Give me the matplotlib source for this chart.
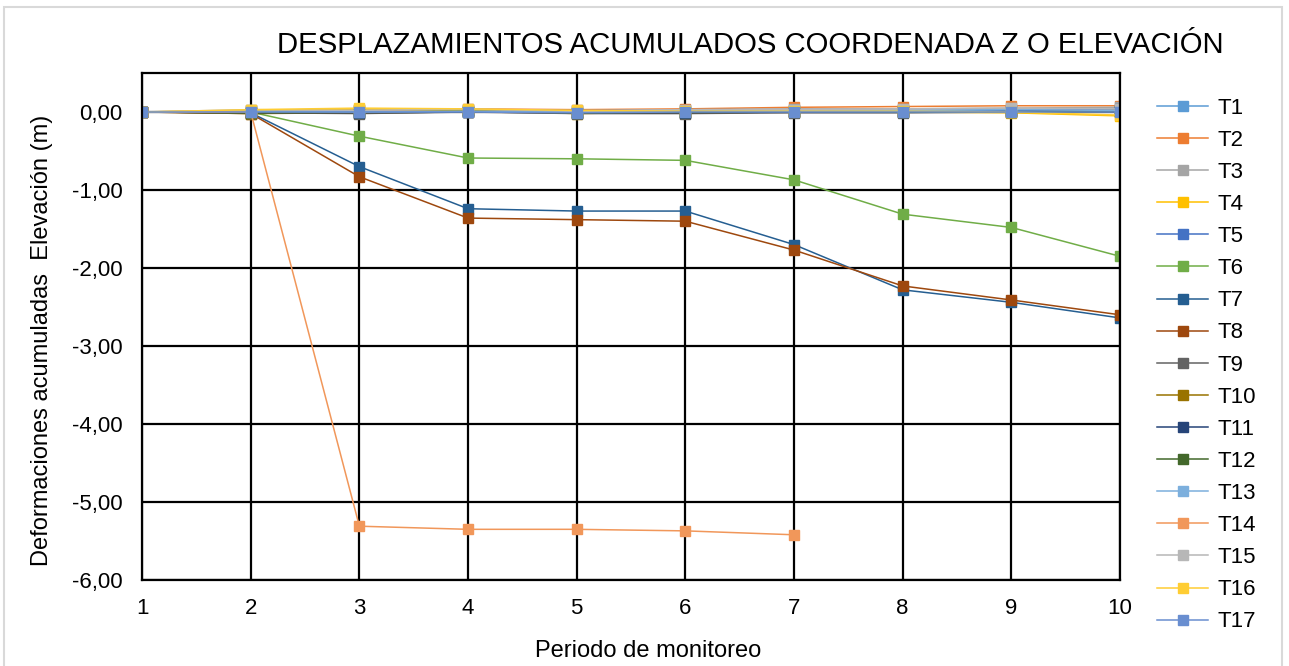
import matplotlib
matplotlib.use("Agg")
import matplotlib.pyplot as plt
from matplotlib.patches import Rectangle

plt.rcParams['font.family'] = ['Liberation Sans', 'DejaVu Sans']

periods = [1, 2, 3, 4, 5, 6, 7, 8, 9, 10]

T1 = [0.00, 0.01, 0.01, 0.02, 0.01, 0.02, 0.02, 0.02, 0.03, 0.03]
T2 = [0.00, 0.00, 0.02, 0.04, 0.03, 0.04, 0.06, 0.07, 0.08, 0.08]
T3 = [0.00, 0.02, 0.03, 0.03, 0.02, 0.03, 0.04, 0.04, 0.05, 0.06]
T4 = [0.00, 0.02, 0.04, 0.02, -0.02, 0.00, 0.00, 0.00, -0.01, -0.05]
T5 = [0.00, -0.01, -0.01, 0.00, -0.01, -0.01, 0.00, 0.00, 0.01, 0.04]
T6 = [0.00, 0.00, -0.31, -0.59, -0.60, -0.62, -0.87, -1.31, -1.48, -1.85]
T7 = [0.00, -0.01, -0.70, -1.24, -1.27, -1.27, -1.70, -2.28, -2.44, -2.64]
T8 = [0.00, -0.02, -0.83, -1.36, -1.38, -1.40, -1.77, -2.23, -2.41, -2.60]
T9 = [0.00, -0.01, -0.02, 0.00, -0.02, -0.02, -0.01, -0.01, 0.00, 0.00]
T10 = [0.00, -0.02, -0.01, 0.00, -0.01, -0.01, 0.00, 0.01, 0.00, 0.02]
T11 = [0.00, -0.01, -0.01, 0.00, -0.01, -0.01, 0.00, 0.00, 0.01, 0.01]
T12 = [0.00, -0.01, 0.00, 0.01, -0.01, 0.00, 0.01, 0.00, 0.00, 0.01]
T13 = [0.00, 0.01, 0.00, 0.01, 0.00, 0.01, 0.02, 0.02, 0.03, 0.02]
T14 = [0.00, 0.00, -5.31, -5.35, -5.35, -5.37, -5.42, None, None, None]
T15 = [0.00, 0.03, 0.02, 0.04, 0.01, 0.03, 0.03, 0.04, 0.05, 0.04]
T16 = [0.00, 0.03, 0.05, 0.04, 0.02, 0.01, 0.01, 0.01, 0.00, -0.04]
T17 = [0.00, 0.00, 0.00, 0.00, -0.01, 0.00, 0.00, 0.00, 0.00, 0.00]

series_names = ["T1", "T2", "T3", "T4", "T5", "T6", "T7", "T8", "T9",
                "T10", "T11", "T12", "T13", "T14", "T15", "T16", "T17"]
series_values = [T1, T2, T3, T4, T5, T6, T7, T8, T9,
                 T10, T11, T12, T13, T14, T15, T16, T17]
series_colors = ["#5B9BD5", "#ED7D31", "#A5A5A5", "#FFC000", "#4472C4",
                 "#70AD47", "#255E91", "#9E480E", "#636363", "#997300",
                 "#264478", "#43682B", "#7CAFDD", "#F1975A", "#B7B7B7",
                 "#FFCD33", "#698ED0"]

y_ticks = [0, -1, -2, -3, -4, -5, -6]
y_tick_labels = ["0,00", "-1,00", "-2,00", "-3,00", "-4,00", "-5,00", "-6,00"]

fig = plt.figure(figsize=(12.89, 6.66), dpi=100)
fig.patches.append(Rectangle((4 / 1289, 1 - 700 / 666), 1278 / 1289, 693 / 666,
                             transform=fig.transFigure, fill=False,
                             edgecolor="#D9D9D9", linewidth=1.5))
ax = fig.add_axes([0.1102, 0.1291, 0.7587, 0.7613])

for name, vals, col in zip(series_names, series_values, series_colors):
    xs = [p for p, v in zip(periods, vals) if v is not None]
    ys = [v for v in vals if v is not None]
    ax.plot(xs, ys, color=col, linewidth=1.1, marker="s", markersize=7,
            markerfacecolor=col, markeredgecolor=col, label=name)

ax.set_xlim(1, 10)
ax.set_ylim(-6, 0.5)
ax.set_xticks(periods)
ax.set_yticks(y_ticks)
ax.set_yticklabels(y_tick_labels)
ax.tick_params(axis="y", length=0, labelsize=16, pad=14)
ax.tick_params(axis="x", length=0, labelsize=16, pad=13)
ax.grid(True, color="black", linewidth=1.6)
ax.set_axisbelow(True)
for s in ax.spines.values():
    s.set_color("black")
    s.set_linewidth(1.6)

ax.set_xlabel("Periodo de monitoreo", fontsize=17)
ax.xaxis.set_label_coords(0.517, -0.118)
ax.set_ylabel("Deformaciones acumuladas  Elevación (m)", fontsize=17)
ax.yaxis.set_label_coords(-0.091, 0.473)
fig.text(0.582, 0.932, "DESPLAZAMIENTOS ACUMULADOS COORDENADA Z O ELEVACIÓN",
         ha="center", va="center", fontsize=21.2)

ax.legend(loc="upper left", bbox_to_anchor=(1.022, 0.982), frameon=False,
          fontsize=16, handlelength=2.3, labelspacing=0.5, handletextpad=0.4,
          borderaxespad=0.3)

fig.savefig("out.png", dpi=100)
